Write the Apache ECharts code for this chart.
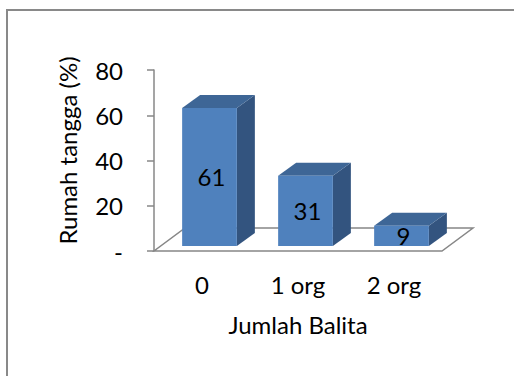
<!DOCTYPE html>
<html>
<head>
<meta charset="utf-8">
<script src="https://cdn.jsdelivr.net/npm/echarts@6/dist/echarts.min.js"></script>
<style>
  html, body { margin: 0; padding: 0; background: #fff; }
  #chart { width: 514px; height: 376px; }
</style>
</head>
<body>
<div id="chart"></div>
<script>
// Household share by number of toddlers
const categories = ['0', '1 org', '2 org'];
const values = [61, 31, 9];
const yTickValues = [0, 20, 40, 60, 80];
const yTickLabels = ['-', '20', '40', '60', '80'];

const FONT = 'Lato, "Open Sans", sans-serif';
const FS = 24;
const FRONT = '#4F81BD';
const TOP = '#3E6696';
const SIDE = '#33547F';
const LINE = '#878787';

const chart = echarts.init(document.getElementById('chart'), null, { renderer: 'svg' });

// 3D floor under the columns, built from the category band edges
function renderFloor(params, api) {
  const band = api.size([1, 0])[0];
  const left = api.coord([0, 0])[0] - band / 2;
  const right = api.coord([categories.length - 1, 0])[0] + band / 2;
  const y = api.coord([0, 0])[1];
  const dx = 31, dy = -23;
  return {
    type: 'polygon',
    shape: { points: [[left, y], [right, y], [right + dx, y + dy], [left + dx, y + dy]] },
    style: { fill: '#fff', stroke: LINE, lineWidth: 1.5 }
  };
}

// 3D column: front face, top face, side face and value label
function renderBar(params, api) {
  const i = api.value(0);
  const v = api.value(1);
  const base = api.coord([i, 0]);
  const top = api.coord([i, v]);
  const band = api.size([1, 0])[0];
  const w = band * 0.57;
  const ox = 7.5, oy = -5;
  const dx = 18, dy = -13;
  const x0 = base[0] + ox - w / 2;
  const x1 = x0 + w;
  const yb = base[1] + oy;
  const yt = top[1] + oy;
  return {
    type: 'group',
    children: [
      {
        type: 'polygon',
        shape: { points: [[x1, yt], [x1 + dx, yt + dy], [x1 + dx, yb + dy], [x1, yb]] },
        style: { fill: SIDE }
      },
      {
        type: 'polygon',
        shape: { points: [[x0, yt], [x1, yt], [x1 + dx, yt + dy], [x0 + dx, yt + dy]] },
        style: { fill: TOP }
      },
      {
        type: 'rect',
        shape: { x: x0, y: yt, width: w, height: yb - yt },
        style: { fill: FRONT }
      },
      {
        type: 'text',
        style: {
          text: String(v),
          x: (x0 + x1) / 2 + 2,
          y: (yb + yt) / 2,
          align: 'center',
          verticalAlign: 'middle',
          fontSize: FS,
          fontFamily: FONT,
          fill: '#000'
        }
      }
    ]
  };
}

chart.setOption({
  animation: false,
  backgroundColor: '#fff',
  graphic: [{
    type: 'rect',
    shape: { x: 7, y: 10, width: 600, height: 500 },
    style: { fill: 'none', stroke: '#898989', lineWidth: 2 },
    silent: true
  }],
  grid: { left: 154, top: 70, width: 288, height: 181, containLabel: false },
  xAxis: {
    type: 'category',
    data: categories,
    axisLine: { show: false },
    axisTick: { show: false },
    axisLabel: { margin: 21, fontSize: FS, fontFamily: FONT, color: '#000' },
    name: 'Jumlah Balita',
    nameLocation: 'middle',
    nameGap: 61,
    nameTextStyle: { fontSize: FS, fontFamily: FONT, color: '#000' }
  },
  yAxis: {
    type: 'value',
    min: 0,
    max: 80,
    interval: 20,
    splitLine: { show: false },
    axisLine: { show: true, lineStyle: { color: LINE, width: 1.5 } },
    axisTick: { show: true, length: 7, lineStyle: { color: LINE, width: 1.5 } },
    axisLabel: {
      margin: 31,
      fontSize: FS,
      fontFamily: FONT,
      color: '#000',
      formatter: function (val) {
        const k = yTickValues.indexOf(val);
        return k >= 0 ? yTickLabels[k] : String(val);
      }
    },
    name: 'Rumah tangga (%)',
    nameLocation: 'middle',
    nameGap: 75,
    nameTextStyle: { fontSize: FS, fontFamily: FONT, color: '#000', padding: [0, 0, 0, 20] }
  },
  series: [
    {
      type: 'custom',
      renderItem: renderFloor,
      data: [[0, 0]],
      silent: true,
      z: 1
    },
    {
      type: 'custom',
      renderItem: renderBar,
      data: categories.map((c, i) => [i, values[i]]),
      z: 2
    }
  ]
});
</script>
</body>
</html>
